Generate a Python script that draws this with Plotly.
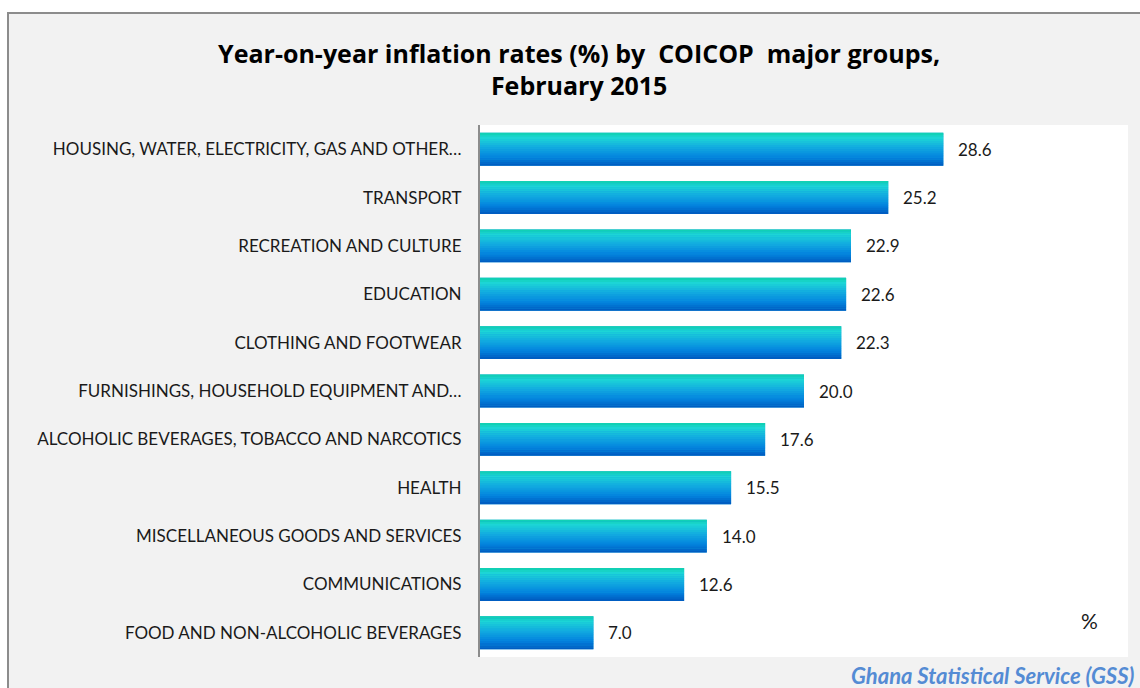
import plotly.graph_objects as go

categories = [
    "HOUSING, WATER, ELECTRICITY, GAS AND OTHER…",
    "TRANSPORT",
    "RECREATION AND CULTURE",
    "EDUCATION",
    "CLOTHING AND FOOTWEAR",
    "FURNISHINGS, HOUSEHOLD EQUIPMENT AND…",
    "ALCOHOLIC BEVERAGES, TOBACCO AND NARCOTICS",
    "HEALTH",
    "MISCELLANEOUS GOODS AND SERVICES",
    "COMMUNICATIONS",
    "FOOD AND NON-ALCOHOLIC BEVERAGES",
]
values = [28.6, 25.2, 22.9, 22.6, 22.3, 20.0, 17.6, 15.5, 14.0, 12.6, 7.0]
value_labels = [f"{v:.1f}" for v in values]

title_text = "Year-on-year inflation rates (%) by  COICOP  major groups,<br>February 2015"
source_text = "Ghana Statistical Service (GSS)"

FONT = "Lato"
BAR_W = 0.68

# vertical gradient stops (top -> bottom)
stops = [(0.0, (14, 206, 172)), (0.15, (28, 214, 214)), (0.45, (18, 170, 224)),
         (0.75, (2, 130, 222)), (1.0, (0, 88, 190))]

def color_at(t):
    for (t0, c0), (t1, c1) in zip(stops[:-1], stops[1:]):
        if t0 <= t <= t1:
            f = (t - t0) / (t1 - t0) if t1 > t0 else 0
            c = [round(a + (b - a) * f) for a, b in zip(c0, c1)]
            return f"rgb({c[0]},{c[1]},{c[2]})"
    return f"rgb{stops[-1][1]}"

fig = go.Figure()
# base bar
fig.add_trace(go.Bar(x=values, y=categories, orientation="h", width=BAR_W,
                     marker=dict(color=color_at(0.5), line=dict(width=0)),
                     hoverinfo="skip", showlegend=False))
N = 16
w = BAR_W / N
for k in range(N):
    fig.add_trace(go.Bar(x=values, y=categories, orientation="h",
                         width=w * 1.08 if k < N - 1 else w,
                         offset=-BAR_W / 2 + k * w,
                         marker=dict(color=color_at((k + 0.5) / N), line=dict(width=0)),
                         hoverinfo="skip", showlegend=False))

annotations = []
for c, v, t in zip(categories, values, value_labels):
    annotations.append(dict(x=v, y=c, xref="x", yref="y", text=t, showarrow=False,
                            xanchor="left", xshift=13, font=dict(family=FONT, size=17, color="#1a1a1a")))
annotations.append(dict(x=0.941, y=0.068, xref="paper", yref="paper", text="%", showarrow=False,
                        xanchor="center", yanchor="middle",
                        font=dict(family=FONT, size=21, color="#1a1a1a")))
annotations.append(dict(x=1.0, y=-0.0357, xref="paper", yref="paper", text=f"<b><i>{source_text}</i></b>",
                        showarrow=False, xanchor="right", yanchor="middle", xshift=8,
                        font=dict(family=FONT, size=22, color="#548bd4")))

shapes = [
    dict(type="rect", xref="paper", yref="paper", x0=-0.7284, x1=1.03, y0=-0.1, y1=1.2105,
         fillcolor="#f2f2f2", line=dict(color="#8c8c8c", width=2), layer="below"),
    dict(type="rect", xref="paper", yref="paper", x0=0, x1=1, y0=0, y1=1,
         fillcolor="white", line=dict(width=0), layer="below"),
]

fig.update_layout(
    width=1140, height=688,
    margin=dict(l=480, r=12, t=125, b=31),
    paper_bgcolor="white", plot_bgcolor="white",
    barmode="overlay",
    title=dict(text=f"<b>{title_text}</b>", x=0.508, xanchor="center", y=0.909, yanchor="top",
               font=dict(family="Open Sans", size=25, color="#000000")),
    xaxis=dict(range=[0, 40], visible=False, fixedrange=True),
    yaxis=dict(autorange="reversed", showline=True, linecolor="#8c8c8c", linewidth=2,
               ticks="", ticklabelstandoff=13, showgrid=False, fixedrange=True,
               tickfont=dict(family=FONT, size=17, color="#1a1a1a")),
    shapes=shapes,
    annotations=annotations,
    font=dict(family=FONT),
)

fig.write_html("out.html", config={"displayModeBar": False},
               post_script="document.body.style.margin='0';document.body.style.overflow='hidden';")
